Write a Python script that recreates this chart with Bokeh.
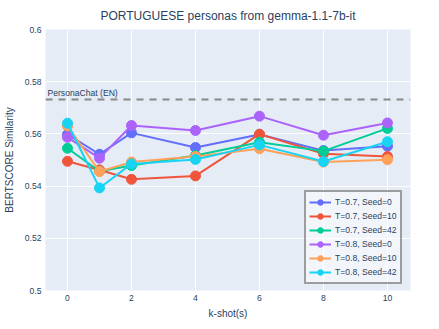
from bokeh.plotting import figure
from bokeh.models import FixedTicker, Span, Label, Legend, LegendItem, Range1d
from bokeh.embed import file_html
from bokeh.resources import INLINE

k_shots = [0, 1, 2, 4, 6, 8, 10]
series_names = ["T=0.7, Seed=0", "T=0.7, Seed=10", "T=0.7, Seed=42",
                "T=0.8, Seed=0", "T=0.8, Seed=10", "T=0.8, Seed=42"]
t07_s0 = [0.5598, 0.5522, 0.5604, 0.5548, 0.5598, 0.5536, 0.5553]
t07_s10 = [0.5495, 0.5462, 0.5426, 0.5439, 0.5599, 0.5524, 0.5513]
t07_s42 = [0.5545, 0.5457, 0.5479, 0.5517, 0.5568, 0.5534, 0.5621]
t08_s0 = [0.5587, 0.5507, 0.5632, 0.5613, 0.5668, 0.5595, 0.5642]
t08_s10 = [0.5630, 0.5456, 0.5492, 0.5513, 0.5543, 0.5492, 0.5501]
t08_s42 = [0.5641, 0.5393, 0.5485, 0.5502, 0.5558, 0.5494, 0.5570]
baseline_value = 0.5732
baseline_label = "PersonaChat (EN)"
x_ticks = [0, 2, 4, 6, 8, 10]
y_ticks = [0.5, 0.52, 0.54, 0.56, 0.58, 0.6]
y_tick_labels = ["0.5", "0.52", "0.54", "0.56", "0.58", "0.6"]
colors = ["#636efa", "#EF553B", "#00cc96", "#ab63fa", "#FFA15A", "#19d3f3"]
all_series = [t07_s0, t07_s10, t07_s42, t08_s0, t08_s10, t08_s42]

FONT = "Liberation Sans"
TXT = "#2a3f5f"

p = figure(frame_width=365, frame_height=261, output_backend="svg", toolbar_location=None,
           x_range=Range1d(-0.6875, 10.72), y_range=Range1d(0.5, 0.6),
           min_border_left=37, min_border_right=21, min_border_top=21, min_border_bottom=28,
           background_fill_color="#E5ECF6", border_fill_color="white",
           title="PORTUGUESE personas from gemma-1.1-7b-it")
p.outline_line_color = None
p.title.align = "center"
p.title.text_font = FONT
p.title.text_font_size = "12px"
p.title.text_font_style = "normal"
p.title.text_color = TXT
p.title.standoff = 13

for ax in (p.xaxis[0], p.yaxis[0]):
    ax.axis_line_color = None
    ax.major_tick_line_color = None
    ax.minor_tick_line_color = None
    ax.major_tick_out = 0
    ax.major_tick_in = 0
    ax.major_label_text_font = FONT
    ax.major_label_text_font_size = "8.6px"
    ax.major_label_text_color = TXT
    ax.axis_label_text_font = FONT
    ax.axis_label_text_font_size = "10px"
    ax.axis_label_text_font_style = "normal"
    ax.axis_label_text_color = TXT

p.xaxis.ticker = FixedTicker(ticks=x_ticks)
p.yaxis.ticker = FixedTicker(ticks=y_ticks)
p.yaxis.major_label_overrides = {t: l for t, l in zip(y_ticks, y_tick_labels)}
p.xaxis.axis_label = "k-shot(s)"
p.yaxis.axis_label = "BERTSCORE Similarity"
p.xaxis.major_label_standoff = 4
p.yaxis.major_label_standoff = 4
p.xaxis.axis_label_standoff = 4
p.yaxis.axis_label_standoff = 7

p.xgrid.grid_line_color = "white"
p.ygrid.grid_line_color = "white"
p.xgrid.grid_line_width = 1
p.ygrid.grid_line_width = 1

span = Span(location=baseline_value, dimension="width", line_color="#888888",
            line_width=2, line_dash="7 6")
p.add_layout(span)
p.add_layout(Label(x=-0.6875, y=baseline_value, text=baseline_label, x_offset=2, y_offset=1,
                   text_font=FONT, text_font_size="8.6px", text_color=TXT,
                   text_baseline="bottom"))

items = []
for name, vals, c in zip(series_names, all_series, colors):
    r1 = p.line(k_shots, vals, line_color=c, line_width=2)
    r2 = p.scatter(k_shots, vals, size=10, fill_color=c, line_color=c)
    items.append(LegendItem(label=name, renderers=[r1, r2]))

legend = Legend(items=items, location=(259, 6), orientation="vertical")
legend.background_fill_color = "white"
legend.background_fill_alpha = 0.5
legend.border_line_color = "#444444"
legend.border_line_width = 2
legend.label_text_font = FONT
legend.label_text_font_size = "8.6px"
legend.label_text_color = TXT
legend.glyph_width = 22
legend.glyph_height = 14
legend.label_height = 14
legend.spacing = 0
legend.padding = 3
legend.margin = 0
legend.label_standoff = 4
p.add_layout(legend, "center")

open("out.html", "w").write(file_html(p, INLINE))
